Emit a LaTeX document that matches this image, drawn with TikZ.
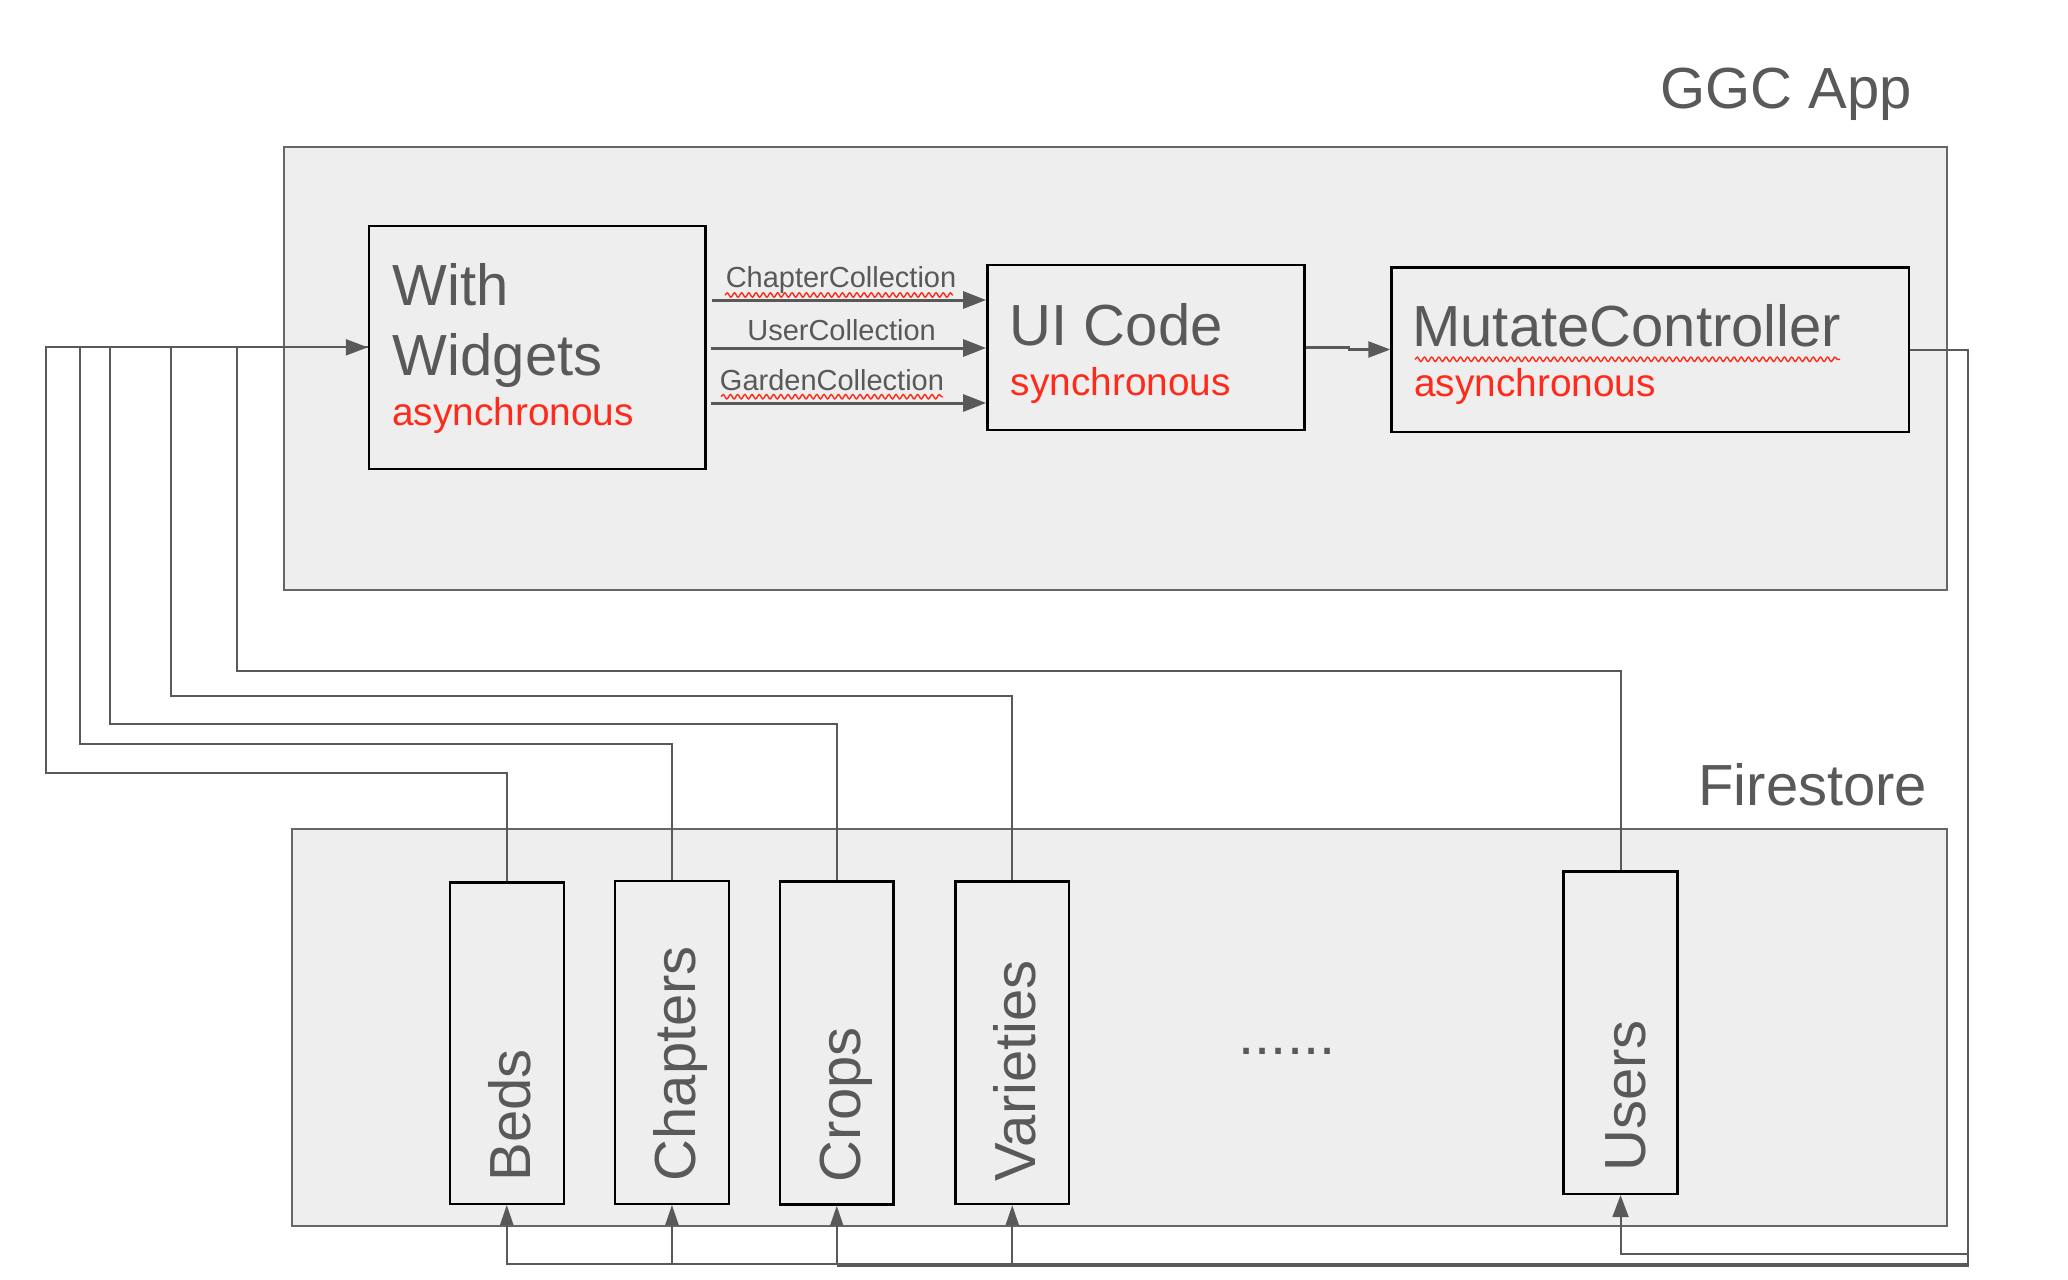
\documentclass[tikz,border=0pt]{standalone}
\usepackage{fontspec}
\setmainfont{Liberation Sans}
\usetikzlibrary{arrows.meta,fit,decorations.pathmorphing,calc}
\definecolor{lgray}{HTML}{EEEEEE}
\definecolor{dgray}{HTML}{595959}
\definecolor{bgray}{HTML}{666666}
\definecolor{myred}{HTML}{FF2A1A}
\begin{document}
\begin{tikzpicture}[x=0.5pt,y=-0.5pt,
  outerbox/.style={draw=bgray, line width=1pt, fill=lgray, inner sep=0pt},
  inbox/.style={draw=black, line width=1.2pt, fill=lgray, inner sep=0pt},
  bigtxt/.style={inner sep=0pt, text=dgray, font=\fontsize{29pt}{34pt}\selectfont},
  redtxt/.style={inner sep=0pt, text=myred, font=\fontsize{19.4pt}{23pt}\selectfont},
  lbl/.style={inner sep=0pt, text=dgray, font=\fontsize{14.5pt}{17pt}\selectfont},
  rottxt/.style={bigtxt, rotate=90, anchor=base west},
  conn/.style={draw=dgray, line width=1pt},
  bigarr/.style={draw=dgray, line width=1.5pt, -{Triangle[length=11.5pt,width=8.5pt]}},
  tipA/.style={-{Triangle[length=11pt,width=8pt]}},
  tipS/.style={-{Triangle[length=10pt,width=6.5pt]}},
  squig/.style={draw=myred, line width=0.7pt, decorate, decoration={snake, amplitude=1.1pt, segment length=3.6pt}}
]
\fill[white] (0,0) rectangle (2068,1280);
\useasboundingbox (0,0) rectangle (2068,1280);

% outer containers
\node[outerbox, fit={(283.5,147) (1947,590)}] (ggc) {};
\node[outerbox, fit={(291.5,829) (1947,1225.7)}] (fs) {};
\node[bigtxt, anchor=base west] (tggc) at (1660,108.3) {GGC App};
\node[bigtxt, anchor=base west] (tfs) at (1698,805) {Firestore};

% app boxes
\node[inbox, fit={(369,225.7) (705.6,469)}] (ww) {};
\node[inbox, fit={(987.3,265) (1304.5,430)}] (ui) {};
\node[inbox, fit={(1391.5,267.3) (1909,431.7)}] (mc) {};
\node[bigtxt, anchor=base west] (tw1) at (392.5,305) {With};
\node[bigtxt, anchor=base west] (tw2) at (392.5,375) {Widgets};
\node[redtxt, anchor=base west] (tw3) at (392,425) {asynchronous};
\node[bigtxt, anchor=base west] (tu1) at (1009.5,345) {UI Code};
\node[redtxt, anchor=base west] (tu2) at (1010.5,395) {synchronous};
\node[bigtxt, anchor=base west] (tm1) at (1412,346) {MutateController};
\node[redtxt, anchor=base west] (tm2) at (1414,396.7) {asynchronous};
\draw[squig] (1415,359.3) -- (1840,359.3);

% firestore collections
\node[inbox, fit={(449.7,882.4) (563.8,1203.7)}] (beds) {};
\node[inbox, fit={(615.2,880.8) (728.7,1203.7)}] (chap) {};
\node[inbox, fit={(780,881.6) (893.5,1204.5)}] (crops) {};
\node[inbox, fit={(955.5,881.6) (1069,1204)}] (var) {};
\node[inbox, fit={(1563.5,871.4) (1677.6,1193.9)}] (users) {};
\node[rottxt] (tbeds) at ([xshift=11.8pt,yshift=11.6pt]beds.south) {Beds};
\node[rottxt] (tchap) at ([xshift=11.8pt,yshift=11.6pt]chap.south) {Chapters};
\node[rottxt] (tcrops) at ([xshift=11.8pt,yshift=11.6pt]crops.south) {Crops};
\node[rottxt] (tvar) at ([xshift=11.8pt,yshift=11.6pt]var.south) {Varieties};
\node[rottxt] (tusers) at ([xshift=12.5pt,yshift=11.5pt]users.south) {Users};
\node[bigtxt, anchor=base] (dots) at (1287,1054) {......};

% arrows between app boxes
\coordinate (h1) at (0,300);
\coordinate (h2) at (0,348);
\coordinate (h3) at (0,403);
\draw[bigarr] ($(ww.east |- h1)+(5.5,0)$) -- (ui.west |- h1);
\draw[bigarr] ($(ww.east |- h2)+(4,0)$) -- (ui.west |- h2);
\draw[bigarr] ($(ww.east |- h3)+(4,0)$) -- (ui.west |- h3);
\node[lbl, anchor=base] (lcc) at (841,287) {ChapterCollection};
\node[lbl, anchor=base] (luc) at (841.6,340.7) {UserCollection};
\node[lbl, anchor=base] (lgc) at (832,390) {GardenCollection};
\draw[squig] (725,295) -- (953,295);
\draw[squig] (721,396.7) -- (943,396.7);
\draw[conn, line width=1.2pt, tipA] (ui.east) -- ++(43,0) |- (mc.west);

% collections -> With Widgets
\coordinate (jb) at (45.5,772.7);
\coordinate (jc) at (80.4,744);
\coordinate (jr) at (109.5,723.7);
\coordinate (jv) at (171.4,696.3);
\coordinate (ju) at (237.4,670.6);
\draw[conn] (users.north) |- (ju) |- (ww.west);
\draw[conn] (var.north) |- (jv) |- (ww.west);
\draw[conn] (crops.north) |- (jr) |- (ww.west);
\draw[conn] (chap.north) |- (jc) |- (ww.west);
\draw[conn, tipA] (beds.north) |- (jb) |- (ww.west);

% MutateController -> collections
\coordinate (rc) at (1967.7,1263.7);
\coordinate (rc2) at (1967.7,1265.6);
\coordinate (ru) at (1967.7,1253.5);
\draw[conn, tipS] (mc.east) -| (rc) -| (beds.south);
\draw[conn] (rc) -- (rc2) -- (crops.south |- rc2);
\draw[conn, tipS] (chap.south |- rc) -- (chap.south);
\draw[conn, tipS] (crops.south |- rc) -- (crops.south);
\draw[conn, tipS] (var.south |- rc) -- (var.south);
\draw[conn, tipA] (ru) -| (users.south);
\end{tikzpicture}
\end{document}
